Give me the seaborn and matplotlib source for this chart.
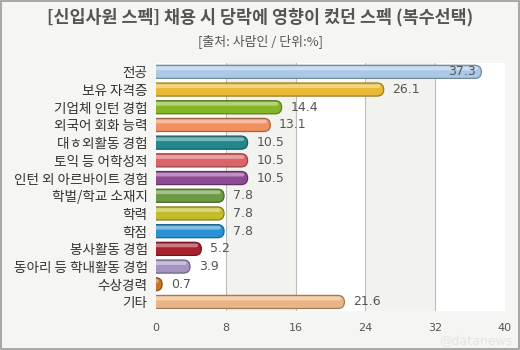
import matplotlib
matplotlib.use("Agg")
import matplotlib.pyplot as plt
import seaborn as sns
import pandas as pd
from matplotlib.patches import FancyBboxPatch

categories = ["전공", "보유 자격증", "기업체 인턴 경험", "외국어 회화 능력", "대ㅎ외활동 경험",
              "토익 등 어학성적", "인턴 외 아르바이트 경험", "학벌/학교 소재지", "학력", "학점",
              "봉사활동 경험", "동아리 등 학내활동 경험", "수상경력", "기타"]
values = [37.3, 26.1, 14.4, 13.1, 10.5, 10.5, 10.5, 7.8, 7.8, 7.8, 5.2, 3.9, 0.7, 21.6]
colors = ["#aac9e6", "#e8b935", "#86b526", "#f0915f", "#23888e", "#dc6468", "#8e4a94",
          "#6a9a42", "#c2bb2a", "#2a92d2", "#a8222e", "#a494c2", "#c87428", "#eab584"]
xticks = [0, 8, 16, 24, 32, 40]

title = "[신입사원 스펙] 채용 시 당락에 영향이 컸던 스펙 (복수선택)"
subtitle = "[출처: 사람인 / 단위:%]"

sns.set_theme(style="white")
plt.rcParams['font.family'] = ['Noto Sans CJK KR', 'DejaVu Sans']

df = pd.DataFrame({"cat": categories, "val": values})

bg = "#f5f5f3"
fig = plt.figure(figsize=(5.2, 3.5), dpi=100, facecolor=bg)
ax = fig.add_axes([0.30, 0.112, 0.671, 0.708])
ax.set_facecolor(bg)

# alternating bands
for i in range(len(xticks) - 1):
    c = "white" if i % 2 == 0 else "#f2f2ee"
    ax.axvspan(xticks[i], xticks[i + 1], color=c, zorder=0, lw=0)
for t in xticks[1:-1]:
    ax.axvline(t, color="#bdbdbd", lw=0.8, zorder=1)

n_before = len(ax.patches)
sns.barplot(data=df, y="cat", x="val", hue="cat", palette=colors, legend=False,
            orient="h", width=0.74, ax=ax, zorder=2, saturation=1)

aspect = 0.49
bar_patches = list(ax.patches)[n_before:]
for p in bar_patches:
    x0, y0 = p.get_x(), p.get_y()
    w, h = p.get_width(), p.get_height()
    if w <= 0:
        continue
    fc = p.get_facecolor()
    p.set_visible(False)
    rx = (h / 2) / aspect
    fb = FancyBboxPatch((x0 - 2, y0), w + 2, h,
                        boxstyle=f"round,pad=0,rounding_size={rx:.3f}",
                        mutation_aspect=aspect,
                        facecolor=fc, edgecolor=tuple(c * 0.68 for c in fc[:3]),
                        lw=0.9, zorder=3)
    ax.add_patch(fb)
    hl = FancyBboxPatch((x0 - 2, y0 + h * 0.10), w + 2 - rx * 0.5, h * 0.28,
                        boxstyle=f"round,pad=0,rounding_size={rx*0.3:.3f}",
                        mutation_aspect=aspect,
                        facecolor="white", alpha=0.4, lw=0, zorder=4)
    ax.add_patch(hl)

for i, v in enumerate(values):
    if v > 35:
        ax.text(v - 0.6, i, f"{v}", va="center", ha="right", fontsize=9, color="#555555",
                zorder=5, family=['DejaVu Sans'])
    else:
        ax.text(v + 1.0, i, f"{v}", va="center", ha="left", fontsize=9, color="#555555",
                zorder=5, family=['DejaVu Sans'])

ax.set_xlim(0, 40)
ax.set_ylim(len(values) - 0.5, -0.5)
ax.set_xticks(xticks)
ax.set_xticklabels([str(t) for t in xticks], fontsize=8, color="#555555", family=['DejaVu Sans'])
ax.tick_params(axis="x", length=0, pad=9)
ax.tick_params(axis="y", length=0, pad=6, labelsize=9.8, labelcolor="#333333")
ax.set_xlabel("")
ax.set_ylabel("")
for s in ax.spines.values():
    s.set_visible(False)

fig.text(0.5, 0.950, title, ha="center", va="center", fontsize=12.5, fontweight="bold", color="#555555")
fig.text(0.5, 0.884, subtitle, ha="center", va="center", fontsize=9.3, color="#555555")
fig.text(0.915, 0.028, "@datanews", ha="center", va="center", fontsize=9, color="#e4e4e4",
         family=['DejaVu Sans'])

fig.patches.append(plt.Rectangle((0.001, 0.0015), 0.998, 0.997, transform=fig.transFigure,
                                 fill=False, edgecolor="#9a9a9a", lw=1.2))

fig.savefig("out.png", dpi=100, facecolor=bg)
